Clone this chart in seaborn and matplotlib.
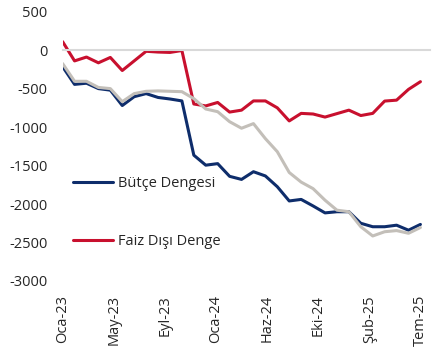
import matplotlib
matplotlib.use("Agg")
import matplotlib.pyplot as plt
import seaborn as sns
import numpy as np
import pandas as pd

# Aylık seriler (Oca-23 .. Tem-25), milyar TL
months = ['Oca-23', 'Şub-23', 'Mar-23', 'Nis-23', 'May-23', 'Haz-23', 'Tem-23', 'Ağu-23',
          'Eyl-23', 'Eki-23', 'Kas-23', 'Ara-23', 'Oca-24', 'Şub-24', 'Mar-24', 'Nis-24',
          'May-24', 'Haz-24', 'Tem-24', 'Ağu-24', 'Eyl-24', 'Eki-24', 'Kas-24', 'Ara-24',
          'Oca-25', 'Şub-25', 'Mar-25', 'Nis-25', 'May-25', 'Haz-25', 'Tem-25']

butce = [-215, -445, -430, -500, -520, -720, -605, -565, -615, -635, -660,
         -1365, -1495, -1475, -1640, -1680, -1580, -1635, -1775, -1960, -1940,
         -2025, -2115, -2100, -2100, -2250, -2295, -2295, -2275, -2340, -2265]

faiz_disi = [110, -140, -90, -165, -95, -265, -140, -15, -25, -30, -5,
             -700, -725, -680, -805, -780, -660, -660, -750, -920, -822,
             -830, -870, -825, -780, -850, -822, -662, -650, -510, -410]

gri_seri = [-175, -405, -405, -485, -500, -670, -565, -535, -530, -535, -540,
            -630, -765, -800, -930, -1015, -955, -1150, -1320, -1590, -1715,
            -1800, -1950, -2080, -2100, -2295, -2415, -2360, -2345, -2380, -2305]

tick_labels = ['Oca-23', 'May-23', 'Eyl-23', 'Oca-24', 'Haz-24', 'Eki-24', 'Şub-25', 'Tem-25']
y_ticks = [500, 0, -500, -1000, -1500, -2000, -2500, -3000]

NAVY = '#0e2d6b'
RED = '#c8102e'
GRAY = '#c3bfb9'
TXT = '#262626'

sns.set_style('white')
plt.rcParams['font.family'] = ['Open Sans', 'DejaVu Sans']

df = pd.DataFrame({'idx': np.arange(len(months)), 'Bütçe Dengesi': butce,
                   'Faiz Dışı Denge': faiz_disi, 'Diğer': gri_seri})

fig = plt.figure(figsize=(4.41, 3.53), dpi=100)
ax = fig.add_axes([0.142, 0.204, 0.833, 0.763])

sns.lineplot(data=df, x='idx', y='Bütçe Dengesi', color=NAVY, lw=2.2, ax=ax, label='Bütçe Dengesi')
sns.lineplot(data=df, x='idx', y='Faiz Dışı Denge', color=RED, lw=2.2, ax=ax, label='Faiz Dışı Denge')
sns.lineplot(data=df, x='idx', y='Diğer', color=GRAY, lw=2.2, ax=ax, legend=False)

ax.set_xlim(0, 30.8)
ax.set_ylim(-3000, 500)
ax.set_xlabel('')
ax.set_ylabel('')

for s in ['top', 'right', 'left']:
    ax.spines[s].set_visible(False)

# sıfır çizgisi üzerinde tik işaretleri
tick_pos = np.linspace(0, len(months) - 1, len(tick_labels))
ax.spines['bottom'].set_position(('data', 0))
ax.spines['bottom'].set_color('#d9d9d9')
ax.spines['bottom'].set_linewidth(1.5)
ax.set_xticks(tick_pos)
ax.tick_params(axis='x', direction='out', length=4, width=1.5, color='#d9d9d9', labelbottom=False)

# etiketler eksenin altında
sec = ax.secondary_xaxis('bottom')
sec.spines['bottom'].set_visible(False)
sec.set_xticks(tick_pos)
sec.set_xticklabels(tick_labels, rotation=90, fontsize=10.5, color=TXT)
sec.tick_params(axis='x', length=0, pad=10)
sec.set_xlim(ax.get_xlim())

ax.set_yticks(y_ticks)
ax.set_yticklabels([str(v) for v in y_ticks], fontsize=10.5, color=TXT)
ax.tick_params(axis='y', length=0, pad=11)

ax.legend(loc='upper left', bbox_to_anchor=(0.027, 0.39), frameon=False,
          fontsize=10.5, labelcolor=TXT, handlelength=2.8, handletextpad=0.3,
          labelspacing=2.95, borderpad=0, borderaxespad=0)

fig.savefig('out.png', dpi=100, facecolor='white')
